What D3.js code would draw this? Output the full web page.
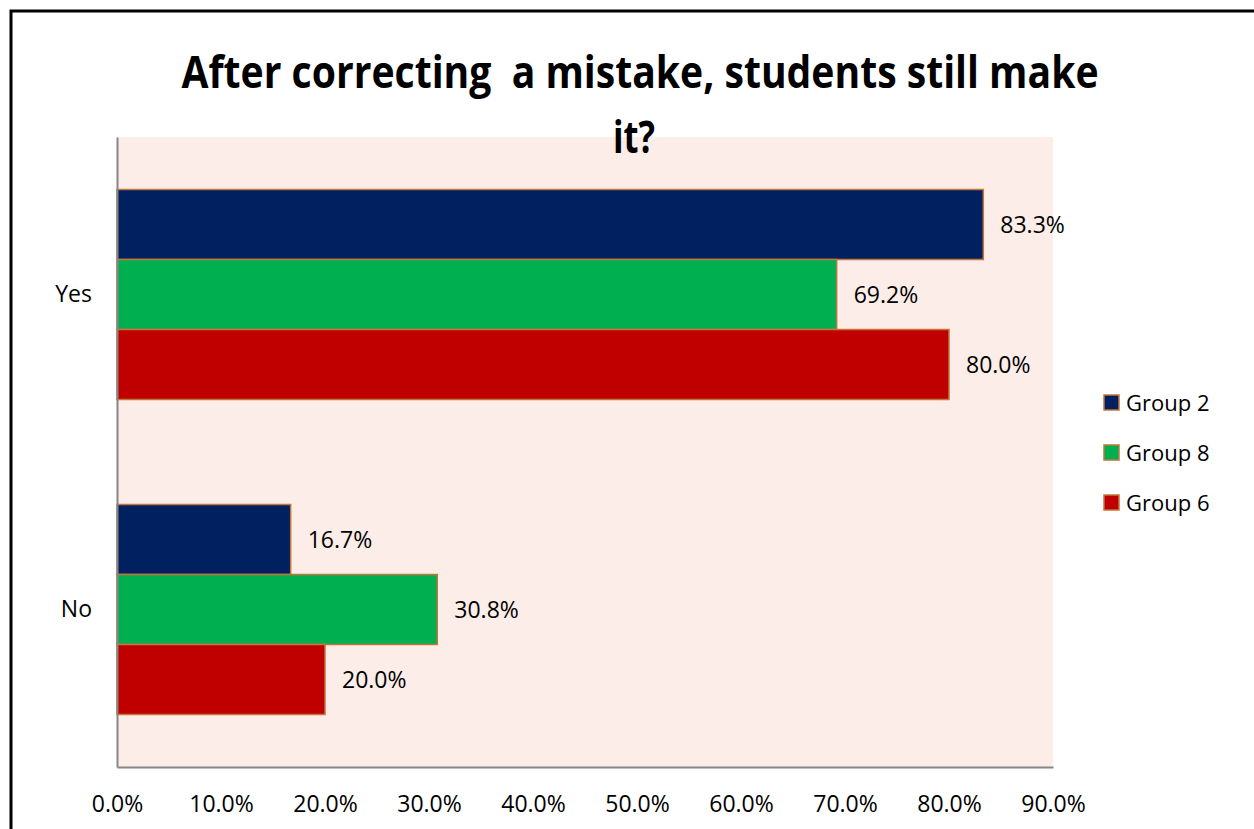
<!DOCTYPE html>
<html>
<head>
<meta charset="utf-8">
<script src="https://cdn.jsdelivr.net/npm/d3@7"></script>
<style>
  html, body { margin: 0; padding: 0; background: #ffffff; }
  svg { display: block; }
  text { font-family: "Open Sans", "Noto Sans", sans-serif; fill: #000; }
  .title text { white-space: pre; }
</style>
</head>
<body>
<svg id="chart" width="1254" height="829"></svg>
<script>
// Survey answers per group (share of students)
const categories = ["Yes", "No"];
const groups = ["Group 2", "Group 8", "Group 6"];
const group2 = [0.833, 0.167];
const group8 = [0.692, 0.308];
const group6 = [0.800, 0.200];
const seriesValues = [group2, group8, group6];
const xTicks = [0, 0.1, 0.2, 0.3, 0.4, 0.5, 0.6, 0.7, 0.8, 0.9];
const titleLines = ["After correcting  a mistake, students still make", "it?"];

const colors = { "Group 2": "#002060", "Group 8": "#00B050", "Group 6": "#C00000" };
const barStroke = "#C0773A";

const svg = d3.select("#chart");
const W = 1254, H = 829;
const plot = { left: 117, right: 1053, top: 137, bottom: 767 };

// Outer chart frame
svg.append("rect")
  .attr("x", 11).attr("y", 11)
  .attr("width", W).attr("height", H)
  .attr("fill", "#fff").attr("stroke", "#000").attr("stroke-width", 3);

// Plot background
svg.append("rect")
  .attr("x", plot.left).attr("y", plot.top)
  .attr("width", plot.right - plot.left).attr("height", plot.bottom - plot.top)
  .attr("fill", "#FCEDE8");

const x = d3.scaleLinear().domain([0, 0.9]).range([plot.left, plot.right]);
const y = d3.scaleBand().domain(categories).range([plot.top, plot.bottom]);
const yInner = d3.scaleBand().domain(groups).range([0, y.bandwidth()]).paddingOuter(0.75);

const rows = [];
categories.forEach((c, ci) => {
  groups.forEach((g, gi) => rows.push({ cat: c, group: g, value: seriesValues[gi][ci] }));
});

const fmt = d3.format(".1%");

// Bars
svg.append("g").selectAll("rect").data(rows).join("rect")
  .attr("x", x(0))
  .attr("y", d => y(d.cat) + yInner(d.group))
  .attr("width", d => x(d.value) - x(0))
  .attr("height", yInner.bandwidth())
  .attr("fill", d => colors[d.group])
  .attr("stroke", barStroke)
  .attr("stroke-width", 1.5);

// Value labels
svg.append("g").selectAll("text").data(rows).join("text")
  .attr("x", d => x(d.value) + 17)
  .attr("y", d => y(d.cat) + yInner(d.group) + yInner.bandwidth() / 2)
  .attr("dy", "0.35em")
  .attr("font-size", 23)
  .text(d => fmt(d.value));

// Axes
const xAxis = d3.axisBottom(x).tickValues(xTicks).tickFormat(fmt).tickSize(0).tickPadding(29);
const gx = svg.append("g").attr("transform", `translate(0,${plot.bottom})`).call(xAxis);
gx.select(".domain").attr("stroke", "#868686").attr("stroke-width", 2);
gx.selectAll("text").attr("font-size", 23).attr("font-family", "Open Sans, sans-serif").attr("fill", "#000");

const yAxis = d3.axisLeft(y).tickSize(0).tickPadding(25);
const gy = svg.append("g").attr("transform", `translate(${plot.left},0)`).call(yAxis);
gy.select(".domain").attr("stroke", "#868686").attr("stroke-width", 2);
gy.selectAll("text").attr("font-size", 23).attr("font-family", "Open Sans, sans-serif").attr("fill", "#000");

// Title (two lines, first line fitted to its width)
const title = svg.append("g").attr("class", "title").attr("font-weight", "bold");
title.append("text")
  .attr("x", 640).attr("y", 88)
  .attr("text-anchor", "middle")
  .attr("font-size", 44)
  .attr("textLength", 917)
  .attr("lengthAdjust", "spacingAndGlyphs")
  .text(titleLines[0]);
title.append("text")
  .attr("x", 634).attr("y", 153)
  .attr("text-anchor", "middle")
  .attr("font-size", 44)
  .attr("textLength", 42)
  .attr("lengthAdjust", "spacingAndGlyphs")
  .text(titleLines[1]);

// Legend
const legend = svg.append("g").selectAll("g").data(groups).join("g")
  .attr("transform", (d, i) => `translate(1104,${403 + i * 50})`);
legend.append("rect")
  .attr("x", 0).attr("y", -8).attr("width", 15).attr("height", 15)
  .attr("fill", d => colors[d]).attr("stroke", barStroke).attr("stroke-width", 1.5);
legend.append("text")
  .attr("x", 22).attr("y", 0).attr("dy", "0.35em")
  .attr("font-size", 22)
  .text(d => d);
</script>
</body>
</html>
